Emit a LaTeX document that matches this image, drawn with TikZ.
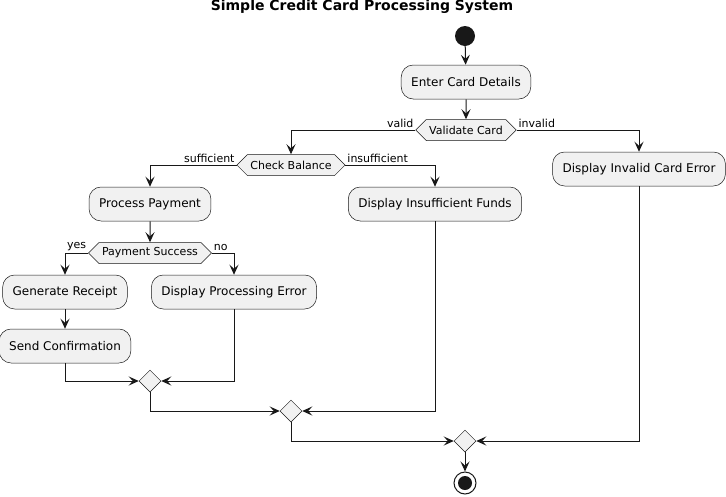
\documentclass[tikz,border=0pt]{standalone}
\usepackage{fontspec}
\setmainfont{DejaVu Sans}
\usetikzlibrary{shapes.geometric,shapes.symbols,arrows.meta}
\definecolor{fillc}{HTML}{F1F1F1}
\definecolor{linec}{HTML}{181818}
\tikzset{
  x=1pt,y=-1pt,
  act/.style={draw=linec,line width=0.5pt,fill=fillc,rounded corners=12pt,minimum height=34pt,inner xsep=10pt,font=\fontsize{12}{14}\selectfont},
  hex/.style={draw=linec,line width=0.5pt,fill=fillc,signal,signal to=west and east,signal pointer angle=90,minimum height=21pt,inner xsep=3pt,inner ysep=0pt,font=\fontsize{11}{13}\selectfont},
  merge/.style={draw=linec,line width=0.5pt,fill=fillc,diamond,minimum size=22pt,inner sep=0pt},
  arr/.style={draw=linec,line width=1pt,-{Stealth[length=10pt,width=9pt,inset=4pt]}},
  lbl/.style={font=\fontsize{11}{13}\selectfont,inner sep=1.5pt},
}
\begin{document}
\begin{tikzpicture}
\useasboundingbox (0,0) rectangle (726,496);
\node[font=\bfseries\fontsize{14}{16}\selectfont] (title) at (362,7) {Simple Credit Card Processing System};
\node[circle,fill=linec,minimum size=20pt,inner sep=0pt] (start) at (465,36) {};
\node[act] (ecd) at (466,82) {Enter Card Details};
\node[hex] (vc) at (466,130) {Validate Card};
\node[hex] (cb) at (291,165) {Check Balance};
\node[act] (dice) at (639,169) {Display Invalid Card Error};
\node[act] (pp) at (150,204) {Process Payment};
\node[act] (dif) at (435,204) {Display Insufficient Funds};
\node[hex] (ps) at (150,253) {Payment Success};
\node[act] (gr) at (65,292) {Generate Receipt};
\node[act] (dpe) at (234,292) {Display Processing Error};
\node[act] (sc) at (65,346) {Send Confirmation};
\node[merge] (m1) at (150,381) {};
\node[merge] (m2) at (291,411) {};
\node[merge] (m3) at (465,441) {};
\node[circle,draw=linec,line width=1pt,fill=white,minimum size=22pt,inner sep=0pt] (stop) at (465,483) {};
\node[circle,fill=linec,minimum size=14pt,inner sep=0pt] (stopin) at (stop.center) {};

\draw[arr] (start) -- (ecd);
\draw[arr] (ecd) -- (vc);
\draw[arr] (vc.west) node[lbl,anchor=south east]{valid} -| (cb.north);
\draw[arr] (vc.east) node[lbl,anchor=south west]{invalid} -| (dice.north);
\draw[arr] (cb.west) node[lbl,anchor=south east]{sufficient} -| (pp.north);
\draw[arr] (cb.east) node[lbl,anchor=south west]{insufficient} -| (dif.north);
\draw[arr] (pp) -- (ps);
\draw[arr] (ps.west) node[lbl,anchor=south east]{yes} -| (gr.north);
\draw[arr] (ps.east) node[lbl,anchor=south west]{no} -| (dpe.north);
\draw[arr] (gr) -- (sc);
\draw[arr] (sc.south) |- (m1.west);
\draw[arr] (dpe.south) |- (m1.east);
\draw[arr] (m1.south) |- (m2.west);
\draw[arr] (dif.south) |- (m2.east);
\draw[arr] (m2.south) |- (m3.west);
\draw[arr] (dice.south) |- (m3.east);
\draw[arr] (m3) -- (stop);
\end{tikzpicture}
\end{document}
